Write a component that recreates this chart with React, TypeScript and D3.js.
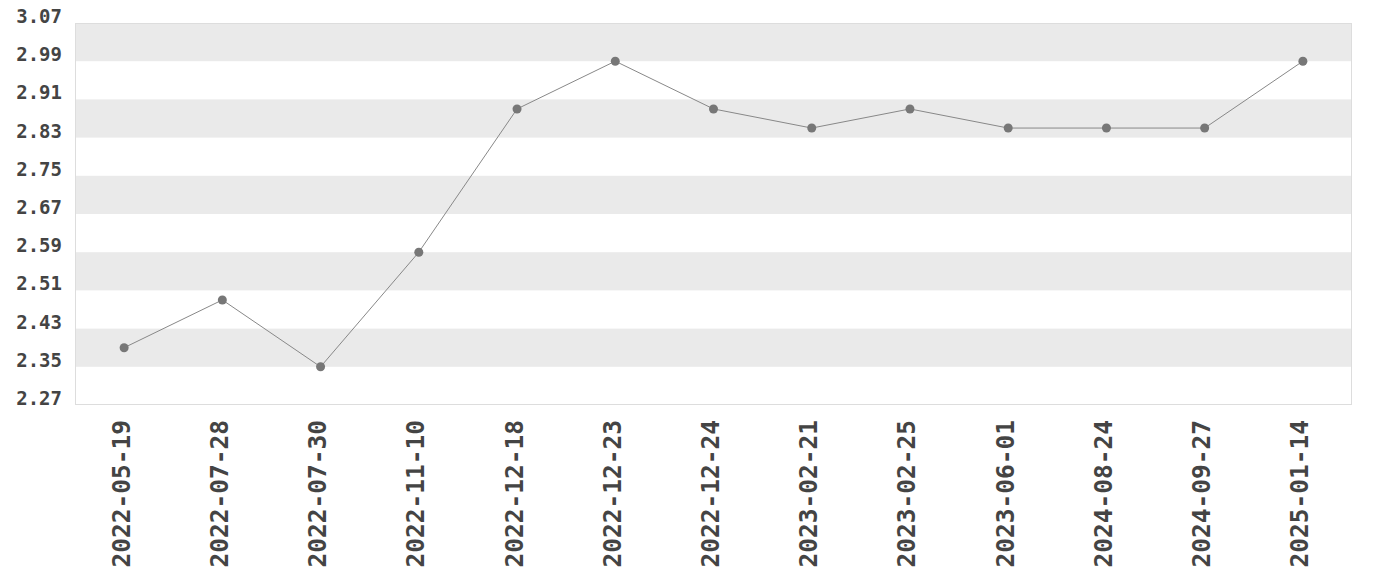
import React from "react";
import * as d3 from "d3";

const categories = [
  "2022-05-19", "2022-07-28", "2022-07-30", "2022-11-10", "2022-12-18", "2022-12-23",
  "2022-12-24", "2023-02-21", "2023-02-25", "2023-06-01", "2024-08-24", "2024-09-27", "2025-01-14",
];
const values = [2.39, 2.49, 2.35, 2.59, 2.89, 2.99, 2.89, 2.85, 2.89, 2.85, 2.85, 2.85, 2.99];
const yTicks = [2.27, 2.35, 2.43, 2.51, 2.59, 2.67, 2.75, 2.83, 2.91, 2.99, 3.07];

const W = 1380, H = 580;
const M = { left: 75, right: 28, top: 23, bottom: 175 };

export default function App() {
  const x = d3.scaleBand<string>().domain(categories).range([M.left, W - M.right]).padding(0);
  const y = d3.scaleLinear().domain([2.27, 3.07]).range([H - M.bottom, M.top]);
  const line = d3.line<number>()
    .x((_, i) => x(categories[i])! + x.bandwidth() / 2)
    .y((d) => y(d));
  const font = "'DejaVu Sans Mono', monospace";
  const bands = [];
  for (let i = yTicks.length - 1; i > 0; i -= 2) {
    bands.push([yTicks[i], yTicks[i - 1]]);
  }
  return (
    <svg width={W} height={H} style={{ position: "absolute", left: 0, top: 0 }}>
      <rect x={0} y={0} width={W} height={H} fill="#fff" />
      {bands.map(([a, b], i) => (
        <rect key={i} x={M.left} y={y(a)} width={W - M.right - M.left} height={y(b) - y(a)} fill="#eaeaea" />
      ))}
      <rect x={M.left + 0.5} y={M.top + 0.5} width={W - M.right - M.left - 1} height={H - M.bottom - M.top - 1}
        fill="none" stroke="#dddddd" strokeWidth={1} />
      {yTicks.map((t) => (
        <text key={t} x={62} y={y(t) - 7} textAnchor="end" dominantBaseline="central"
          fontFamily={font} fontWeight="bold" fontSize={19} fill="#444">
          {t.toFixed(2)}
        </text>
      ))}
      {categories.map((c) => {
        const cx = x(c)! + x.bandwidth() / 2 - 3;
        return (
          <text key={c} transform={`translate(${cx},${420}) rotate(-90)`} textAnchor="end"
            dominantBaseline="central" fontFamily={font} fontWeight="bold" fontSize={24.5} fill="#444">
            {c}
          </text>
        );
      })}
      <path d={line(values)!} fill="none" stroke="#888" strokeWidth={1} />
      {values.map((v, i) => (
        <circle key={i} cx={x(categories[i])! + x.bandwidth() / 2} cy={y(v)} r={4.5} fill="#777" />
      ))}
    </svg>
  );
}
